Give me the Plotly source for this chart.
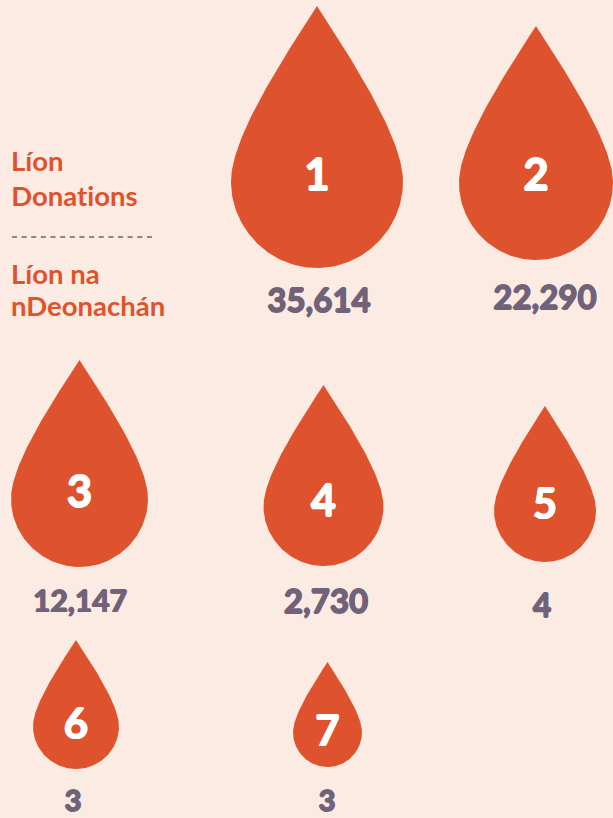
import numpy as np
import plotly.graph_objects as go

# Data
ranks = ["1", "2", "3", "4", "5", "6", "7"]
donation_labels = ["35,614", "22,290", "12,147", "2,730", "4", "3", "3"]
legend_top = ["Líon", "Donations"]
legend_bottom = ["Líon na", "nDeonachán"]

# Layout (pixel positions)
drop_x = [317, 536, 79.5, 323.5, 545, 76, 327.5]
drop_top = [6, 26, 360, 385, 406, 640, 662]
drop_bottom = [268, 260, 567, 566, 562, 769, 767]
drop_half_w = [86, 77, 68.5, 60, 51, 43, 34.5]
rank_y = [179, 179, 496, 505, 508, 728, 735]
rank_size = [44, 44, 44, 43, 42, 42, 42]
value_x = [319, 545, 80, 326, 542, 73, 327]
value_y = [304, 301, 604, 605, 609, 804, 804]
value_size = [33, 33, 30, 33, 32, 29, 29]

BG = "#FCEBE3"
RED = "#DE532D"
GREY = "#6F6279"
W, H = 613, 818


def bez(p0, p1, p2, p3, n=60):
    t = np.linspace(0, 1, n)[:, None]
    p0, p1, p2, p3 = map(np.array, (p0, p1, p2, p3))
    return (1-t)**3*p0 + 3*(1-t)**2*t*p1 + 3*(1-t)*t**2*p2 + t**3*p3


def heavy(color, d):
    return ", ".join(f"{x}px {y}px 0 {color}" for x, y in [(d, 0), (-d, 0), (0, d), (0, -d)])


# unit drop outline: u in [-1, 1] across, v in [0, 1] top to bottom
upper = bez((0, 0), (0.60, 0.30), (1, 0.53), (1, 0.67))
lower = bez((1, 0.67), (1, 0.85), (0.55, 1), (0, 1))
right = np.vstack([upper, lower])
left = right[::-1] * np.array([-1, 1])
outline = np.vstack([right, left])

fig = go.Figure()
for i in range(len(ranks)):
    fig.add_trace(go.Scatter(
        x=drop_x[i] + outline[:, 0] * drop_half_w[i],
        y=drop_top[i] + outline[:, 1] * (drop_bottom[i] - drop_top[i]),
        mode="lines", fill="toself", fillcolor=RED,
        line=dict(width=0, color=RED), hoverinfo="skip", showlegend=False))

fig.add_trace(go.Scatter(
    x=drop_x, y=rank_y, mode="text", text=ranks, textposition="middle center",
    textfont=dict(family="Lato", size=rank_size, color="white", weight=700,
                  shadow=heavy("white", 0.8)),
    hoverinfo="skip", showlegend=False))
fig.add_trace(go.Scatter(
    x=value_x, y=value_y, mode="text", text=donation_labels, textposition="middle center",
    textfont=dict(family="Lato", size=value_size, color=GREY, weight=700,
                  shadow=heavy(GREY, 0.8)),
    hoverinfo="skip", showlegend=False))

for txt, yy in zip(legend_top + legend_bottom, [160, 195, 273, 305]):
    fig.add_annotation(x=12, y=yy, text=txt, showarrow=False, xanchor="left", yanchor="middle",
                       xshift=-3, font=dict(family="Lato", size=27.5, color=RED, weight=700))

fig.add_shape(type="line", x0=12, x1=153, y0=237, y1=237,
              line=dict(color="#222222", width=1, dash="5px,4.64px"))

fig.update_layout(
    width=W, height=H, margin=dict(l=0, r=0, t=0, b=0),
    paper_bgcolor=BG, plot_bgcolor=BG, showlegend=False,
    xaxis=dict(range=[0, W], visible=False, fixedrange=True),
    yaxis=dict(range=[H, 0], visible=False, fixedrange=True),
)
fig.write_html("out.html", config={"displayModeBar": False},
               default_width=f"{W}px", default_height=f"{H}px",
               post_script=("document.body.style.margin='0';document.body.style.overflow='hidden';"
                            "document.documentElement.style.background='%s';"
                            "var s=document.createElement('style');"
                            "s.textContent='text{font-variant-ligatures:none!important;"
                            "font-feature-settings:\"liga\" 0,\"clig\" 0!important}';"
                            "document.head.appendChild(s);") % BG)
